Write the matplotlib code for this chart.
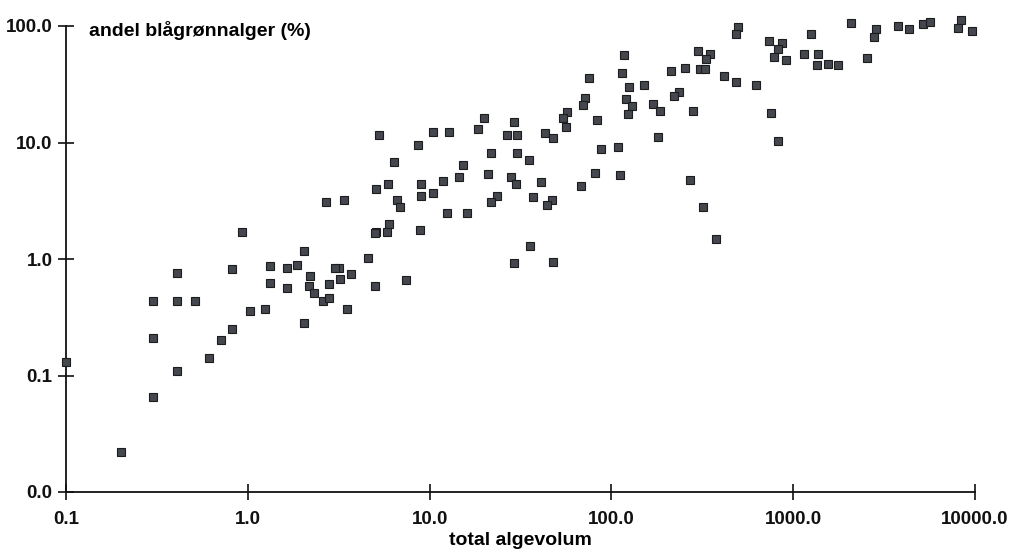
""" Andel blaagroennalger mot total algevolum (log-log scatter). """

import matplotlib
matplotlib.use('Agg')
import matplotlib.pyplot as plt

# total algevolum
algevolum = [
    0.10, 0.20, 0.30, 0.30, 0.30, 0.41, 0.41, 0.41, 0.51, 0.61,
    0.71, 0.82, 0.82, 0.93, 1.03, 1.24, 1.33, 1.33, 1.65, 1.86,
    1.65,
    5.3, 10.4, 12.8, 18.5, 8.6, 6.4, 15.2, 14.5, 11.8, 9.0,
    5.9, 5.1, 9.0, 10.5, 6.6, 6.9, 2.7, 3.4, 12.5, 16.1,
    6.0, 5.1, 5.0, 5.8, 8.8, 2.05, 2.2, 3.16, 3.0, 3.7,
    4.6, 2.8, 3.2, 2.17, 2.3, 5.0, 7.4, 2.6, 2.8, 3.5,
    2.05,
    19.8, 117, 115, 75, 125, 152, 72, 70, 121, 129,
    123, 169, 186, 57, 54, 56, 83, 29, 26.7, 30.3,
    43, 48, 180, 88, 109, 21.7, 30.2, 35, 21, 28,
    30, 81, 112, 41, 68, 23.6, 21.7, 37, 47, 44,
    35.6, 29, 48,
    497, 485, 736, 873, 823, 1245, 298, 349, 331, 212,
    254, 306, 326, 789, 910, 1140, 1370, 1360, 1550, 1760,
    417, 485, 622, 235, 222, 281, 755, 826, 271, 321,
    375,
    2070, 2860, 2770, 3770, 4320, 5150, 5680, 8410, 8030, 9660,
    2540,
]

# andel blaagroennalger (%)
andel_bg = [
    0.13, 0.022, 0.44, 0.21, 0.066, 0.76, 0.44, 0.11, 0.44, 0.14,
    0.20, 0.25, 0.82, 1.70, 0.36, 0.37, 0.87, 0.62, 0.83, 0.89,
    0.56,
    11.7, 12.2, 12.3, 13.0, 9.5, 6.8, 6.4, 5.1, 4.7, 4.4,
    4.4, 4.0, 3.5, 3.7, 3.2, 2.8, 3.1, 3.2, 2.5, 2.5,
    2.0, 1.72, 1.66, 1.70, 1.76, 1.16, 0.71, 0.84, 0.83, 0.75,
    1.01, 0.61, 0.67, 0.59, 0.51, 0.59, 0.66, 0.44, 0.46, 0.37,
    0.28,
    16.1, 56, 39.5, 35.5, 30, 31, 24, 21, 23.6, 20.4,
    17.6, 21.4, 18.8, 18.4, 16.3, 13.7, 15.6, 14.9, 11.5, 11.7,
    12.0, 10.9, 11.1, 8.8, 9.2, 8.1, 8.1, 7.1, 5.4, 5.1,
    4.4, 5.5, 5.3, 4.6, 4.2, 3.5, 3.1, 3.4, 3.2, 2.9,
    1.29, 0.93, 0.95,
    98, 85, 75, 71, 64, 85, 61, 57, 52, 41,
    44, 43, 43, 54, 51, 57, 58, 46, 47, 46,
    37, 33, 31, 27, 25, 18.8, 18, 10.2, 4.8, 2.8,
    1.49,
    107, 94, 81, 100, 95, 104, 108, 113, 97, 91,
    53,
]

x_ticks = [0.1, 1, 10, 100, 1000, 10000]
x_labels = ['0.1', '1.0', '10.0', '100.0', '1000.0', '10000.0']
y_ticks = [0.01, 0.1, 1, 10, 100]
y_labels = ['0.0', '0.1', '1.0', '10.0', '100.0']

plt.rcParams['font.family'] = ['Liberation Sans', 'DejaVu Sans']
plt.rcParams['font.weight'] = 'bold'

fig = plt.figure(figsize=(10.19, 5.53), dpi=100)
ax = fig.add_axes([66 / 1019, 1 - 492 / 553, (975 - 66) / 1019, (492 - 26) / 553])

ax.plot(algevolum, andel_bg, 's', ms=6.3, color='#45474f', mec='#1c1c1c',
        mew=0.8, clip_on=False, zorder=3)

ax.set_xscale('log')
ax.set_yscale('log')
ax.set_xlim(0.1, 10000)
ax.set_ylim(0.01, 100)

ax.set_xticks(x_ticks)
ax.set_xticklabels(x_labels)
ax.set_yticks(y_ticks)
ax.set_yticklabels(y_labels)
ax.minorticks_off()

for s in ['top', 'right']:
    ax.spines[s].set_visible(False)
for s in ['left', 'bottom']:
    ax.spines[s].set_linewidth(1.3)
    ax.spines[s].set_color('#111111')

ax.tick_params(axis='both', direction='inout', length=11.5, width=1.2,
               labelsize=13.5, colors='#111111')
ax.tick_params(axis='x', pad=8)
ax.tick_params(axis='y', pad=4)

ax.set_xlabel('total algevolum', fontsize=14, fontweight='bold', labelpad=3)
ax.text(89 / 1019, 1 - 31 / 553, 'andel blågrønnalger (%)', transform=fig.transFigure,
        fontsize=14, fontweight='bold', va='center', ha='left')

fig.savefig('out.png', dpi=100, facecolor='white')
